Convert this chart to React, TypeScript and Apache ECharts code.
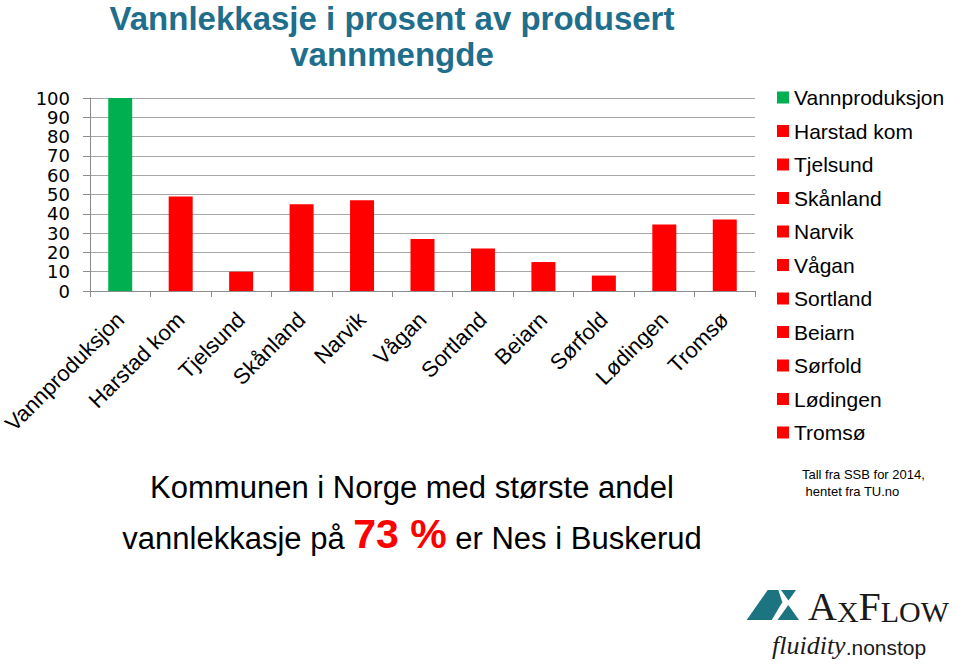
import React, { useEffect, useRef } from "react";
import * as echarts from "echarts";

const categories = [
  "Vannproduksjon",
  "Harstad kom",
  "Tjelsund",
  "Skånland",
  "Narvik",
  "Vågan",
  "Sortland",
  "Beiarn",
  "Sørfold",
  "Lødingen",
  "Tromsø",
];
const values = [100, 49, 10, 45, 47, 27, 22, 15, 8, 34.5, 37];
const barColors = [
  "#00B050",
  "#FF0000",
  "#FF0000",
  "#FF0000",
  "#FF0000",
  "#FF0000",
  "#FF0000",
  "#FF0000",
  "#FF0000",
  "#FF0000",
  "#FF0000",
];
const titleLines = ["Vannlekkasje i prosent av produsert", "vannmengde"];
const noteLine1 = "Kommunen i Norge med største andel";
const noteLine2a = "vannlekkasje på ";
const noteHighlight = "73 %";
const noteLine2b = " er Nes i Buskerud";
const sourceLines = ["Tall fra SSB for 2014,", " hentet fra TU.no"];

const SANS = "'Liberation Sans', Arial, sans-serif";
const SERIF = "'Liberation Serif', 'Times New Roman', serif";

export default function App() {
  const ref = useRef<HTMLDivElement>(null);

  useEffect(() => {
    document.body.style.margin = "0";
    if (!ref.current) return;
    const chart = echarts.init(ref.current, undefined, { renderer: "svg" });

    const series = categories.map((name, i) => ({
      type: "bar" as const,
      name,
      stack: "all",
      barWidth: 24,
      data: values.map((v, j) => (j === i ? v : "-")),
      itemStyle: { color: barColors[i] },
    }));

    chart.setOption({
      animation: false,
      backgroundColor: "#ffffff",
      grid: {
        left: 90,
        right: 205,
        top: 98,
        bottom: 373,
        containLabel: false,
        outerBoundsMode: "none",
      },
      legend: {
        data: categories,
        orient: "vertical",
        left: 772,
        top: 82,
        itemWidth: 12,
        itemHeight: 12,
        itemGap: 12.5,
        icon: "rect",
        textStyle: { fontSize: 21, color: "#000", fontFamily: SANS, lineHeight: 21 },
      },
      xAxis: {
        type: "category",
        data: categories,
        axisLine: { show: true, lineStyle: { color: "#8c8c8c", width: 1 } },
        axisTick: { show: true, length: 6, alignWithLabel: false, lineStyle: { color: "#8c8c8c" } },
        axisLabel: {
          interval: 0,
          rotate: 45,
          fontSize: 22,
          color: "#000",
          fontFamily: SANS,
          margin: 25,
        },
        splitLine: { show: false },
      },
      yAxis: {
        type: "value",
        min: 0,
        max: 100,
        interval: 10,
        axisLine: { show: true, lineStyle: { color: "#8c8c8c", width: 1 } },
        axisTick: { show: true, length: 7, lineStyle: { color: "#8c8c8c" } },
        axisLabel: {
          fontSize: 18,
          lineHeight: 18,
          color: "#000",
          fontFamily: "'DejaVu Sans', sans-serif",
          margin: 20,
          showMinLabel: true,
          showMaxLabel: true,
          hideOverlap: false,
        },
        splitLine: { show: true, lineStyle: { color: "#a6a6a6", width: 1 } },
      },
      series,
      graphic: [
        {
          type: "text",
          x: 392,
          y: 0,
          style: {
            text: titleLines.join("\n"),
            font: `bold 33px ${SANS}`,
            fill: "#1F6E8C",
            lineHeight: 36,
            align: "center",
          },
        },
        {
          type: "text",
          x: 412,
          y: 472,
          style: {
            text: noteLine1,
            font: `31px ${SANS}`,
            fill: "#000",
            align: "center",
          },
        },
        {
          type: "text",
          x: 412,
          y: 513,
          style: {
            text: `{n|${noteLine2a}}{h|${noteHighlight}}{n|${noteLine2b}}`,
            align: "center",
            rich: {
              n: { fontSize: 31, fontFamily: SANS, fill: "#000", verticalAlign: "bottom" },
              h: { fontSize: 41, fontFamily: SANS, fontWeight: "bold", fill: "#FF0000", verticalAlign: "bottom" },
            },
          },
        },
        {
          type: "text",
          x: 802,
          y: 466,
          style: {
            text: sourceLines.join("\n"),
            font: `13px ${SANS}`,
            fill: "#000",
            lineHeight: 17,
          },
        },
        {
          type: "polygon",
          shape: {
            points: [
              [767.7, 590],
              [778.3, 590],
              [782.3, 602.3],
              [771.7, 620],
              [746.7, 620],
            ],
          },
          style: { fill: "#1B7480" },
        },
        {
          type: "polygon",
          shape: { points: [[781, 590], [796, 590], [788.5, 600.5]] },
          style: { fill: "#1B7480" },
        },
        {
          type: "polygon",
          shape: { points: [[777.5, 620], [799, 620], [788.3, 605]] },
          style: { fill: "#1B7480" },
        },
        {
          type: "text",
          x: 808,
          y: 586,
          style: {
            text: "{b|A}{s|X}{b|F}{s|LOW}",
            rich: {
              b: { fontSize: 40, fontFamily: SERIF, fill: "#1a1a1a", verticalAlign: "bottom" },
              s: { fontSize: 30, fontFamily: SERIF, fill: "#1a1a1a", verticalAlign: "bottom" },
            },
          },
        },
        {
          type: "text",
          x: 772,
          y: 632,
          style: {
            text: "{i|fluidity}{s|.nonstop}",
            rich: {
              i: { fontSize: 26, fontFamily: SERIF, fontStyle: "italic", fill: "#1a1a1a", verticalAlign: "bottom" },
              s: { fontSize: 21, fontFamily: SANS, fill: "#1a1a1a", verticalAlign: "bottom" },
            },
          },
        },
      ],
    });

    return () => {
      chart.dispose();
    };
  }, []);

  return (
    <div
      ref={ref}
      style={{ width: 960, height: 664, position: "fixed", left: 0, top: 0, background: "#fff" }}
    />
  );
}
